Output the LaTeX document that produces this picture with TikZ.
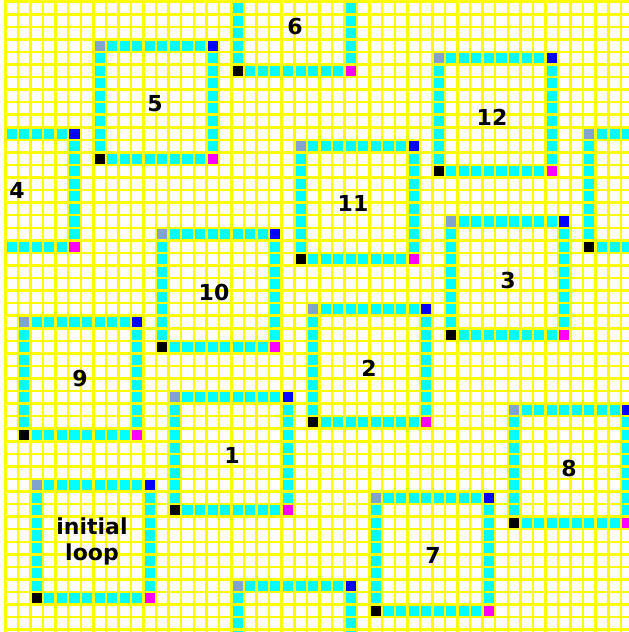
\documentclass[tikz,border=0pt]{standalone}
\usepackage{fontspec}
\setmainfont{DejaVu Sans}
\definecolor{gridyellow}{RGB}{255,255,0}
\definecolor{loopcyan}{RGB}{0,255,255}
\definecolor{cornergray}{RGB}{128,164,206}
\definecolor{cornerblue}{RGB}{0,0,255}
\definecolor{cornermag}{RGB}{255,0,255}
\newcommand{\gx}{5.4}
\newcommand{\gy}{1.7}
\newcommand{\gp}{12.56}
\newcommand{\cellat}[3]{\fill[#1] ({\gx+(#2)*\gp},{\gy+(#3)*\gp}) rectangle ++(\gp,\gp);}
\newcommand{\loopat}[2]{%
  \foreach \i in {1,...,8}{%
    \cellat{loopcyan}{#1+\i}{#2}
    \cellat{loopcyan}{#1+\i}{#2+9}
    \cellat{loopcyan}{#1}{#2+\i}
    \cellat{loopcyan}{#1+9}{#2+\i}
  }
  \cellat{cornergray}{#1}{#2}
  \cellat{cornerblue}{#1+9}{#2}
  \cellat{cornermag}{#1+9}{#2+9}
  \cellat{black}{#1}{#2+9}
}
\tikzset{
  gridline/.style={draw=gridyellow, line width=2.5pt},
  lbl/.style={font=\fontsize{22}{26}\selectfont\bfseries, text=black, inner sep=0pt, align=center}
}
\begin{document}
\begin{tikzpicture}[x=1pt,y=-1pt]
\useasboundingbox (0,0) rectangle (629,632);
\fill[white] (0,0) rectangle (629,632);
\begin{scope}
\clip ({\gx-1.25},0) rectangle (629,632);
\loopat{7}{3}
\loopat{18}{-4}
\loopat{-4}{10}
\loopat{34}{4}
\loopat{23}{11}
\loopat{46}{10}
\loopat{35}{17}
\loopat{12}{18}
\loopat{24}{24}
\loopat{1}{25}
\loopat{13}{31}
\loopat{40}{32}
\loopat{29}{39}
\loopat{2}{38}
\loopat{18}{46}
\foreach \k in {0,...,50}{%
  \draw[gridline] ({\gx+\k*\gp},{\gy-2}) -- ({\gx+\k*\gp},640);
  \draw[gridline] ({\gx-2},{\gy+\k*\gp}) -- (640,{\gy+\k*\gp});
}
\end{scope}
\node[lbl] (l6) at (295,27) {6};
\node[lbl] (l5) at (155,104) {5};
\node[lbl] (l12) at (492,117) {12};
\node[lbl] (l4) at (17,190) {4};
\node[lbl] (l11) at (353,203) {11};
\node[lbl] (l3) at (508,280) {3};
\node[lbl] (l10) at (214,292) {10};
\node[lbl] (l2) at (369,368) {2};
\node[lbl] (l9) at (80,378) {9};
\node[lbl] (l1) at (232,455) {1};
\node[lbl] (l8) at (569,468) {8};
\node[lbl] (l7) at (433,555) {7};
\node[lbl] (linit) at (92,541) {initial\\loop};
\end{tikzpicture}
\end{document}
